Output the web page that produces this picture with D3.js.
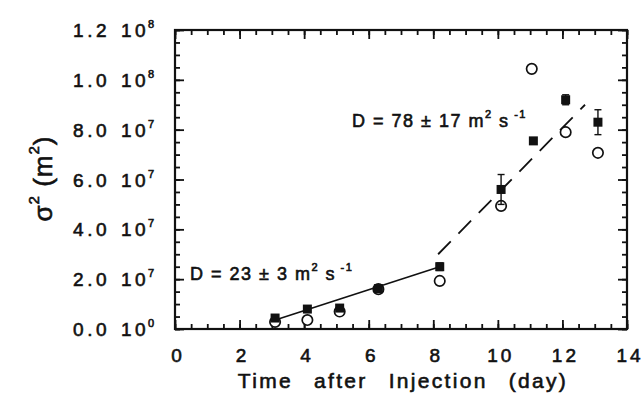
<!DOCTYPE html>
<html>
<head>
<meta charset="utf-8">
<script src="https://cdn.jsdelivr.net/npm/d3@7"></script>
<style>
  body { margin: 0; background: #fff; }
  text { font-family: "Liberation Sans", Arial, sans-serif; fill: #111; stroke: #111; stroke-width: 0.6px; }
</style>
</head>
<body>
<svg id="chart"></svg>
<script>
// data (sigma^2 in units of 1e6 m^2)
const daysFilled   = [3.1, 4.1, 5.1, 6.3, 8.2, 10.1, 11.1, 12.1, 13.1];
const sigmaFilled  = [4.4, 8.0, 8.4, 16.2, 25.0, 56.0, 75.5, 92.0, 83.0];
const errFilled    = [1.0, 0.8, 1.0, 1.0, 1.5, 6.0, 1.0, 2.0, 5.0];
const daysOpen     = [3.1, 4.1, 5.1, 6.3, 8.2, 10.1, 11.05, 12.1, 13.1];
const sigmaOpen    = [2.8, 3.6, 7.0, 16.0, 19.3, 49.4, 104.4, 79.0, 70.7];
const fitSlow      = [[3.2, 4.0], [8.2, 25.0]];
const fitFast      = [[8.15, 30.0], [12.7, 90.0]];
const xTicks       = [0, 2, 4, 6, 8, 10, 12, 14];
const yTicks       = [0, 20, 40, 60, 80, 100, 120];
const yTickMant    = ['0.0', '2.0', '4.0', '6.0', '8.0', '1.0', '1.2'];
const yTickExp     = ['0', '7', '7', '7', '7', '8', '8'];

const width = 644, height = 396;
const margin = {left: 175, right: 17, top: 30, bottom: 67};

const svg = d3.select('#chart')
              .attr('width', width)
              .attr('height', height);

const x = d3.scaleLinear().domain([0, 14]).range([margin.left, width - margin.right]);
const y = d3.scaleLinear().domain([0, 120]).range([height - margin.bottom, margin.top]);

const x0 = x.range()[0], x1 = x.range()[1], y0 = y.range()[0], y1 = y.range()[1];

// inward ticks on every side
function ticks(axisFn, scale, values, size, transform) {
  svg.append('g')
     .attr('transform', transform)
     .call(axisFn(scale).tickValues(values).tickSize(size).tickSizeOuter(0).tickFormat(''))
     .call(g => g.select('.domain').remove())
     .call(g => g.selectAll('line').attr('stroke', '#111').attr('stroke-width', 1.8));
}
const xMinor = d3.range(0, 14.01, 0.5), yMinor = d3.range(0, 120.1, 5);
ticks(d3.axisBottom, x, xMinor, -5, `translate(0,${y0})`);
ticks(d3.axisBottom, x, xTicks, -9, `translate(0,${y0})`);
ticks(d3.axisTop, x, xMinor, -5, `translate(0,${y1})`);
ticks(d3.axisTop, x, xTicks, -9, `translate(0,${y1})`);
ticks(d3.axisLeft, y, yMinor, -5, `translate(${x0},0)`);
ticks(d3.axisLeft, y, yTicks, -9, `translate(${x0},0)`);
ticks(d3.axisRight, y, yMinor, -5, `translate(${x1},0)`);
ticks(d3.axisRight, y, yTicks, -9, `translate(${x1},0)`);

svg.append('rect')
   .attr('x', x0).attr('y', y1)
   .attr('width', x1 - x0).attr('height', y0 - y1)
   .attr('fill', 'none').attr('stroke', '#111').attr('stroke-width', 2.2);

// x tick labels
svg.append('g').selectAll('text')
   .data(xTicks).enter()
   .append('text')
   .attr('x', d => x(d) + 3)
   .attr('y', y0 + 33)
   .attr('text-anchor', 'middle')
   .attr('font-size', '19px')
   .attr('letter-spacing', '3px')
   .text(d => d);

// y tick labels: mantissa + 10^exp
const yl = svg.append('g').selectAll('g')
   .data(yTicks).enter()
   .append('g')
   .attr('transform', d => `translate(0,${y(d) + 7})`);
yl.append('text')
  .attr('x', 110).attr('text-anchor', 'end')
  .attr('font-size', '19px').attr('letter-spacing', '3.5px')
  .text((d, i) => yTickMant[i]);
yl.append('text')
  .attr('x', 121)
  .attr('font-size', '19px').attr('letter-spacing', '3.5px')
  .text('10');
yl.append('text')
  .attr('x', 148).attr('y', -9)
  .attr('font-size', '11px')
  .text((d, i) => yTickExp[i]);

// fit lines
const line = d3.line().x(d => x(d[0])).y(d => y(d[1]));
svg.append('path').attr('d', line(fitSlow))
   .attr('fill', 'none').attr('stroke', '#111').attr('stroke-width', 1.6);
svg.append('path').attr('d', line(fitFast))
   .attr('fill', 'none').attr('stroke', '#111').attr('stroke-width', 1.8)
   .attr('stroke-dasharray', '18,11');

// open circles
svg.append('g').selectAll('circle')
   .data(daysOpen).enter()
   .append('circle')
   .attr('cx', d => x(d))
   .attr('cy', (d, i) => y(sigmaOpen[i]))
   .attr('r', 5.2)
   .attr('fill', '#fff').attr('stroke', '#111').attr('stroke-width', 1.7);

// error bars for filled squares
const eb = svg.append('g').selectAll('g')
   .data(daysFilled).enter()
   .append('g');
eb.append('line')
  .attr('x1', d => x(d)).attr('x2', d => x(d))
  .attr('y1', (d, i) => y(sigmaFilled[i] - errFilled[i]))
  .attr('y2', (d, i) => y(sigmaFilled[i] + errFilled[i]))
  .attr('stroke', '#111').attr('stroke-width', 1.4);
['-', '+'].forEach(s => {
  eb.append('line')
    .attr('x1', d => x(d) - 3.5).attr('x2', d => x(d) + 3.5)
    .attr('y1', (d, i) => y(sigmaFilled[i] + (s === '+' ? 1 : -1) * errFilled[i]))
    .attr('y2', (d, i) => y(sigmaFilled[i] + (s === '+' ? 1 : -1) * errFilled[i]))
    .attr('stroke', '#111').attr('stroke-width', 1.4);
});

// filled squares
svg.append('g').selectAll('rect')
   .data(daysFilled).enter()
   .append('rect')
   .attr('x', d => x(d) - 4.5)
   .attr('y', (d, i) => y(sigmaFilled[i]) - 4.5)
   .attr('width', 9).attr('height', 9)
   .attr('fill', '#111');

// annotations
function annot(xp, yp, value) {
  const t = svg.append('text')
     .attr('x', xp).attr('y', yp)
     .attr('font-size', '18px').attr('letter-spacing', '1.5px')
     .attr('xml:space', 'preserve');
  t.append('tspan').text(`D = ${value} m`);
  t.append('tspan').attr('font-size', '11px').attr('dy', -9).text('2');
  t.append('tspan').attr('dy', 9).text(' s');
  t.append('tspan').attr('font-size', '11px').attr('dy', -9).text(' -1');
}
annot(190, 280, '23 ± 3');
annot(352, 127, '78 ± 17');

// axis titles
svg.append('text')
   .attr('x', x((0 + 14) / 2) + 2)
   .attr('y', 388)
   .attr('text-anchor', 'middle')
   .attr('font-size', '21px')
   .attr('letter-spacing', '2.3px')
   .attr('word-spacing', '13px')
   .text('Time after Injection (day)');

const yt = svg.append('text')
   .attr('transform', `translate(52,${(y0 + y1) / 2 - 1}) rotate(-90)`)
   .attr('text-anchor', 'middle')
   .attr('font-size', '26px')
   .attr('letter-spacing', '1px');
yt.append('tspan').text('σ');
yt.append('tspan').attr('font-size', '15px').attr('dy', -13).text('2');
yt.append('tspan').attr('dy', 13).text(' (m');
yt.append('tspan').attr('font-size', '15px').attr('dy', -13).text('2');
yt.append('tspan').attr('dy', 13).text(')');
</script>
</body>
</html>
